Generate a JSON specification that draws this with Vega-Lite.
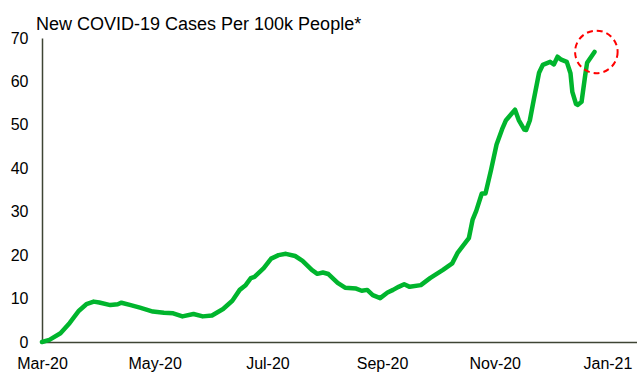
{
  "$schema": "https://vega.github.io/schema/vega-lite/v6.json",
  "width": 595,
  "height": 304,
  "autosize": "none",
  "padding": {"left": 42, "top": 38, "right": 0, "bottom": 31},
  "background": "white",
  "config": {
    "view": {"stroke": null},
    "font": "Liberation Sans"
  },
  "title": {
    "text": "New COVID-19 Cases Per 100k People*",
    "anchor": "start",
    "frame": "group",
    "dx": -6,
    "offset": -7,
    "fontSize": 18,
    "fontWeight": "normal",
    "font": "Liberation Sans",
    "color": "#000000"
  },
  "datasets": {
    "cases": [
      {"date": "2020-03-01", "value": 0},
      {"date": "2020-03-05", "value": 0.5},
      {"date": "2020-03-11", "value": 2.0},
      {"date": "2020-03-16", "value": 4.4},
      {"date": "2020-03-21", "value": 7.2},
      {"date": "2020-03-25", "value": 8.7},
      {"date": "2020-03-29", "value": 9.3},
      {"date": "2020-04-01", "value": 9.1},
      {"date": "2020-04-07", "value": 8.5},
      {"date": "2020-04-11", "value": 8.7},
      {"date": "2020-04-13", "value": 9.05},
      {"date": "2020-04-18", "value": 8.5},
      {"date": "2020-04-23", "value": 7.9},
      {"date": "2020-04-30", "value": 7.0},
      {"date": "2020-05-06", "value": 6.75},
      {"date": "2020-05-11", "value": 6.6},
      {"date": "2020-05-16", "value": 5.9},
      {"date": "2020-05-22", "value": 6.45},
      {"date": "2020-05-27", "value": 5.9},
      {"date": "2020-06-01", "value": 6.1},
      {"date": "2020-06-07", "value": 7.6},
      {"date": "2020-06-12", "value": 9.5},
      {"date": "2020-06-16", "value": 12.0},
      {"date": "2020-06-19", "value": 13.0},
      {"date": "2020-06-22", "value": 14.7},
      {"date": "2020-06-24", "value": 15.0},
      {"date": "2020-06-29", "value": 17.0},
      {"date": "2020-07-03", "value": 19.2},
      {"date": "2020-07-07", "value": 20.0},
      {"date": "2020-07-11", "value": 20.3},
      {"date": "2020-07-16", "value": 19.8},
      {"date": "2020-07-20", "value": 18.7},
      {"date": "2020-07-25", "value": 16.6},
      {"date": "2020-07-28", "value": 15.7},
      {"date": "2020-07-31", "value": 16.0},
      {"date": "2020-08-03", "value": 15.65},
      {"date": "2020-08-08", "value": 13.6},
      {"date": "2020-08-12", "value": 12.5},
      {"date": "2020-08-18", "value": 12.3},
      {"date": "2020-08-21", "value": 11.8},
      {"date": "2020-08-24", "value": 12.0},
      {"date": "2020-08-27", "value": 10.8},
      {"date": "2020-08-31", "value": 10.1},
      {"date": "2020-09-04", "value": 11.4},
      {"date": "2020-09-07", "value": 12.0},
      {"date": "2020-09-10", "value": 12.7},
      {"date": "2020-09-13", "value": 13.3},
      {"date": "2020-09-16", "value": 12.7},
      {"date": "2020-09-22", "value": 13.1},
      {"date": "2020-09-27", "value": 14.7},
      {"date": "2020-10-04", "value": 16.6},
      {"date": "2020-10-09", "value": 18.1},
      {"date": "2020-10-12", "value": 20.6},
      {"date": "2020-10-18", "value": 23.9},
      {"date": "2020-10-20", "value": 28.1},
      {"date": "2020-10-22", "value": 30.2},
      {"date": "2020-10-25", "value": 34.2},
      {"date": "2020-10-27", "value": 34.2},
      {"date": "2020-10-30", "value": 39.6},
      {"date": "2020-11-02", "value": 45.5},
      {"date": "2020-11-05", "value": 49.0},
      {"date": "2020-11-07", "value": 51.0},
      {"date": "2020-11-10", "value": 52.5},
      {"date": "2020-11-12", "value": 53.5},
      {"date": "2020-11-14", "value": 51.1},
      {"date": "2020-11-17", "value": 48.9},
      {"date": "2020-11-18", "value": 48.8},
      {"date": "2020-11-20", "value": 51.0},
      {"date": "2020-11-22", "value": 55.5},
      {"date": "2020-11-25", "value": 62.0},
      {"date": "2020-11-27", "value": 63.8},
      {"date": "2020-12-01", "value": 64.5},
      {"date": "2020-12-03", "value": 63.9},
      {"date": "2020-12-05", "value": 65.7},
      {"date": "2020-12-07", "value": 65.0},
      {"date": "2020-12-10", "value": 64.5},
      {"date": "2020-12-12", "value": 61.9},
      {"date": "2020-12-13", "value": 57.6},
      {"date": "2020-12-15", "value": 54.8},
      {"date": "2020-12-16", "value": 54.6},
      {"date": "2020-12-18", "value": 55.3},
      {"date": "2020-12-20", "value": 61.5},
      {"date": "2020-12-21", "value": 64.3},
      {"date": "2020-12-25", "value": 66.8}
    ],
    "highlight": [
      {"date": "2020-12-26", "value": 66.8}
    ]
  },
  "layer": [
    {
      "data": {"name": "cases"},
      "mark": {"type": "line", "color": "#00B52D", "strokeWidth": 4.5, "strokeJoin": "round", "strokeCap": "round", "clip": false},
      "encoding": {
        "x": {
          "field": "date",
          "type": "temporal",
          "scale": {"domain": ["2020-03-01", "2021-01-17"]},
          "axis": {
            "title": null,
            "format": "%b-%y",
            "tickCount": {"interval": "month", "step": 2},
            "grid": false,
            "ticks": false,
            "domainColor": "#3f4434",
            "domainWidth": 1.5,
            "labelFont": "Liberation Sans",
            "labelFontSize": 16,
            "labelColor": "#000000",
            "labelPadding": 13,
            "labelFlush": false,
            "labelOverlap": false
          }
        },
        "y": {
          "field": "value",
          "type": "quantitative",
          "scale": {"domain": [0, 70], "nice": false},
          "axis": {
            "title": null,
            "values": [0, 10, 20, 30, 40, 50, 60, 70],
            "grid": false,
            "ticks": false,
            "domainColor": "#3f4434",
            "domainWidth": 1.5,
            "labelFont": "Liberation Sans",
            "labelFontSize": 16,
            "labelColor": "#000000",
            "labelPadding": 14,
            "labelFlush": false,
            "labelOverlap": false
          }
        }
      }
    },
    {
      "data": {"name": "highlight"},
      "mark": {"type": "point", "shape": "circle", "filled": false, "stroke": "#FF0000", "strokeWidth": 2, "strokeDash": [6, 4], "size": 1810, "opacity": 1, "clip": false},
      "encoding": {
        "x": {"field": "date", "type": "temporal"},
        "y": {"field": "value", "type": "quantitative"}
      }
    }
  ]
}
